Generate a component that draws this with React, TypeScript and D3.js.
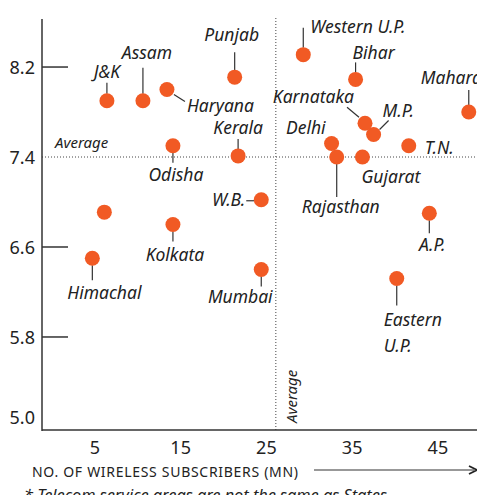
import * as React from "react";
import * as d3 from "d3";

const regions = ["J&K", "Assam", "Haryana", "Punjab", "Odisha", "Kerala", "", "Kolkata", "W.B.", "Himachal", "Mumbai", "Western U.P.", "Bihar", "Maharashtra", "Karnataka", "M.P.", "T.N.", "Delhi", "Rajasthan", "Gujarat", "A.P.", "Eastern U.P."];
const subscribers = [6.4, 10.6, 13.4, 21.3, 14.1, 21.7, 6.1, 14.1, 24.4, 4.7, 24.4, 29.3, 35.4, 48.6, 36.5, 37.5, 41.6, 32.6, 33.2, 36.2, 44.0, 40.2];
const scores = [7.9, 7.9, 8.0, 8.11, 7.5, 7.41, 6.91, 6.8, 7.02, 6.5, 6.4, 8.31, 8.09, 7.8, 7.7, 7.6, 7.5, 7.52, 7.4, 7.4, 6.9, 6.32];
const yTicks = [8.2, 7.4, 6.6, 5.8, 5.0];
const xTicks = [5, 15, 25, 35, 45];
const avgSubscribers = 26.1;
const avgScore = 7.4;

// label placement: text offset from dot, anchor, leader line offsets
type Lay = { dx: number; dy: number; a: string; line?: [number, number, number, number] };
const layout: Lay[] = [
  { dx: 0, dy: -23, a: "middle", line: [0, -18, 0, -7] },
  { dx: 4, dy: -42, a: "middle", line: [0, -33, 0, -7] },
  { dx: 20, dy: 22, a: "start", line: [7, 5, 18, 12] },
  { dx: -3, dy: -36, a: "middle", line: [0, -25, 0, -7] },
  { dx: 3, dy: 35, a: "middle", line: [0, 7, 0, 17] },
  { dx: 0, dy: -22, a: "middle", line: [0, -17, 0, -7] },
  { dx: 0, dy: 0, a: "middle" },
  { dx: 2, dy: 36, a: "middle", line: [0, 7, 0, 17] },
  { dx: -16, dy: 6, a: "end", line: [-15, 1, -7, 1] },
  { dx: 12, dy: 41, a: "middle", line: [0, 7, 0, 22] },
  { dx: -21, dy: 34, a: "middle", line: [0, 7, 0, 17] },
  { dx: 7, dy: -22, a: "start", line: [0, -27, 0, -7] },
  { dx: -3, dy: -20, a: "start", line: [0, -17, 0, -7] },
  { dx: -48, dy: -28, a: "start", line: [0, -22, 0, -7] },
  { dx: -11, dy: -20, a: "end", line: [-18, -16, -6, -6] },
  { dx: 9, dy: -18, a: "start", line: [6, -5, 15, -14] },
  { dx: 16, dy: 8, a: "start" },
  { dx: -6, dy: -10, a: "end" },
  { dx: 4, dy: 56, a: "middle", line: [0, 7, 0, 40] },
  { dx: -1, dy: 26, a: "start" },
  { dx: 3, dy: 38, a: "middle", line: [0, 7, 0, 20] },
  { dx: -13, dy: 48, a: "start", line: [0, 7, 0, 27] },
];

const W = 477;
const H = 495;
const ink = "#222";
const dotColor = "#f15a24";

export default function App() {
  const x = d3.scaleLinear().domain([-1.17, 49.56]).range([42, 477]);
  const y = d3.scaleLinear().domain([4.973, 8.627]).range([430, 19]);
  const font = "'Noto Sans', 'Open Sans', sans-serif";

  return (
    <div>
      <style>{`body{margin:0}`}</style>
      <svg width={W} height={H} style={{ display: "block", fontFamily: font }}>
        {/* average lines */}
        <line x1={42} x2={W} y1={y(avgScore)} y2={y(avgScore)} stroke="#444" strokeWidth={1} strokeDasharray="1,2" />
        <line x1={x(avgSubscribers)} x2={x(avgSubscribers)} y1={18} y2={430} stroke="#444" strokeWidth={1} strokeDasharray="1,2" />
        <text x={55} y={148} fontSize={15} fontStyle="italic" fill={ink}>Average</text>
        <text transform={`translate(${x(avgSubscribers) + 21},423) rotate(-90)`} fontSize={15} fontStyle="italic" fill={ink}>Average</text>

        {/* axes */}
        <line x1={42} x2={42} y1={19} y2={431} stroke="#333" strokeWidth={1.5} />
        <line x1={42} x2={W} y1={430} y2={430} stroke="#333" strokeWidth={1.5} />
        {yTicks.map((t, i) => (
          <g key={t}>
            {t !== avgScore && i < yTicks.length - 1 && (
              <line x1={42} x2={68} y1={y(t)} y2={y(t)} stroke="#333" strokeWidth={1.5} />
            )}
            <text x={35} y={y(t) + 7 - (i === yTicks.length - 1 ? 10 : 0)} textAnchor="end" fontSize={18} fill={ink}>
              {t.toFixed(1)}
            </text>
          </g>
        ))}
        {xTicks.map((t) => (
          <text key={t} x={x(t)} y={454} textAnchor="middle" fontSize={18} fill={ink}>{t}</text>
        ))}
        <text x={32} y={477} fontSize={14} fill={ink} textLength={266}>NO. OF WIRELESS SUBSCRIBERS (MN)</text>
        <line x1={314} x2={474} y1={470} y2={470} stroke="#333" strokeWidth={1.2} />
        <path d="M469,466 L477,470 L469,474" fill="none" stroke="#222" strokeWidth={1.8} />
        <text x={24} y={501} fontSize={16.3} fontStyle="italic" fill={ink}>* Telecom service areas are not the same as States</text>

        {/* points */}
        {regions.map((r, i) => {
          const cx = x(subscribers[i]);
          const cy = y(scores[i]);
          const l = layout[i];
          const lines = r.startsWith("Eastern") ? ["Eastern", "U.P."] : [r];
          return (
            <g key={i}>
              {l.line && (
                <line x1={cx + l.line[0]} y1={cy + l.line[1]} x2={cx + l.line[2]} y2={cy + l.line[3]} stroke="#333" strokeWidth={1.2} />
              )}
              <circle cx={cx} cy={cy} r={7.5} fill={dotColor} />
              {r && (
                <text x={cx + l.dx} y={cy + l.dy} textAnchor={l.a} fontSize={17.5} fontStyle="italic" fill={ink}>
                  {lines.map((s, k) => (
                    <tspan key={k} x={cx + l.dx} dy={k === 0 ? 0 : 26}>{s}</tspan>
                  ))}
                </text>
              )}
            </g>
          );
        })}
      </svg>
    </div>
  );
}
